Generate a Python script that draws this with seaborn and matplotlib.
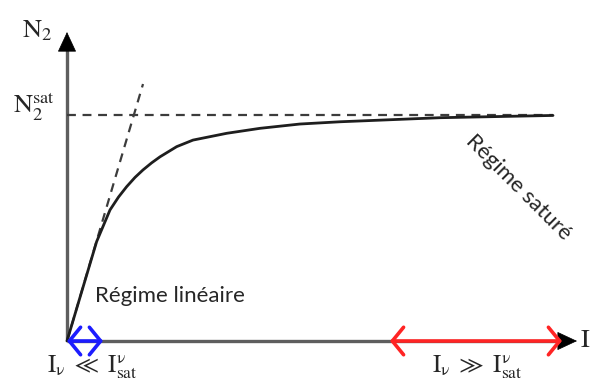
import matplotlib
matplotlib.use('Agg')
import matplotlib.pyplot as plt
import seaborn as sns

# Courbe de saturation N2(I)
I_vals = [0, 0.27, 0.61, 0.885, 1.06, 1.228, 1.40, 1.564, 1.74, 1.914, 2.257, 2.593, 3.286, 3.971, 4.79, 5.617, 7.675, 10.0]
N_vals = [0, 0.195, 0.44, 0.58, 0.637, 0.683, 0.724, 0.757, 0.788, 0.815, 0.860, 0.889, 0.919, 0.941, 0.960, 0.970, 0.988, 0.998]

# Tangente à l'origine (régime linéaire)
tan_I = [0, 1.564]
tan_N = [0, 1.137]

# Niveau de saturation
sat_I = [0, 10.0]
sat_N = [1.0, 1.0]

# Domaines : linéaire (bleu) et saturé (rouge)
lin_range = (0, 0.74)
sat_range = (6.646, 10.185)

sns.set_style('white')
plt.rcParams['mathtext.fontset'] = 'stix'

fig = plt.figure(figsize=(5.93, 3.83), dpi=100)
ax = fig.add_axes([0, 0, 1, 1])
ax.set_xlim(-1.3786, 10.823)
ax.set_ylim(-0.1858, 1.5088)
ax.axis('off')

# Axes avec flèches
axis_col = '#5e5e5e'
ax.plot([0, 10.185], [0, 0], color=axis_col, lw=2.4, solid_capstyle='butt', zorder=1)
ax.plot([0, 0], [0, 1.29], color=axis_col, lw=2.4, solid_capstyle='butt', zorder=1)
ax.annotate('', xy=(10.494, 0), xytext=(10.185, 0),
            arrowprops=dict(arrowstyle='-|>,head_length=0.6,head_width=0.28', color='black',
                            mutation_scale=22, shrinkA=0, shrinkB=0, lw=0.5))
ax.annotate('', xy=(0, 1.367), xytext=(0, 1.29),
            arrowprops=dict(arrowstyle='-|>,head_length=0.6,head_width=0.28', color='black',
                            mutation_scale=22, shrinkA=0, shrinkB=0, lw=0.5))

# Tirets
ax.plot(sat_I, sat_N, color='#3c3c3c', lw=1.6, ls=(0, (4, 3)))
ax.plot(tan_I, tan_N, color='#3c3c3c', lw=1.6, ls=(0, (4, 3)))

# Courbe
sns.lineplot(x=I_vals, y=N_vals, ax=ax, color='#1e1e1e', lw=2.0, sort=False)

# Flèches bleue et rouge
ax.annotate('', xy=(lin_range[1], 0), xytext=(lin_range[0], 0),
            arrowprops=dict(arrowstyle='<->,head_length=0.45,head_width=0.55', color='#1c1cff',
                            lw=2.6, mutation_scale=18, shrinkA=0, shrinkB=0))
ax.annotate('', xy=(sat_range[1], 0), xytext=(sat_range[0], 0),
            arrowprops=dict(arrowstyle='<->,head_length=0.45,head_width=0.55', color='#ff2424',
                            lw=2.6, mutation_scale=18, shrinkA=0, shrinkB=0))

# Textes
ax.text(-0.617, 1.345, r'$\mathrm{N}_2$', fontsize=19, ha='center', va='baseline')
ax.text(-0.689, 1.009, r'$\mathrm{N}_2^{\mathrm{sat}}$', fontsize=19, ha='center', va='baseline')
ax.text(10.66, -0.027, r'$\mathrm{I}$', fontsize=19, ha='center', va='baseline')
ax.text(0.514, -0.138, r'$\mathrm{I}_{\mathrm{\nu}}\ \ll\ \mathrm{I}_{\mathrm{sat}}^{\mathrm{\nu}}$',
        fontsize=18, ha='center', va='baseline')
ax.text(8.44, -0.138, r'$\mathrm{I}_{\mathrm{\nu}}\ \gg\ \mathrm{I}_{\mathrm{sat}}^{\mathrm{\nu}}$',
        fontsize=18, ha='center', va='baseline')
ax.text(0.58, 0.172, 'Régime linéaire', fontsize=16, family='Lato', ha='left', va='baseline')
ax.text(9.28, 0.681, 'Régime saturé', fontsize=16, family='Lato', ha='center', va='center',
        rotation=-45, rotation_mode='anchor')

fig.savefig('out.png', dpi=100)
